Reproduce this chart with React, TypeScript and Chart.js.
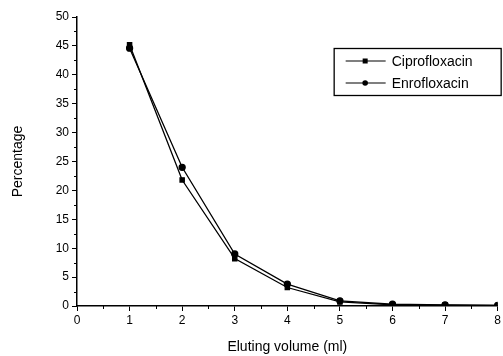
import React, { useEffect, useRef } from "react";
import { Chart, registerables } from "chart.js";

Chart.register(...registerables);

const volumes = [1, 2, 3, 4, 5, 6, 7, 8];
const ciprofloxacin = [45.2, 21.8, 8.2, 3.2, 0.7, 0.2, 0.15, 0.1];
const enrofloxacin = [44.6, 24.0, 9.0, 3.8, 0.9, 0.3, 0.2, 0.1];
const xTicks = [0, 1, 2, 3, 4, 5, 6, 7, 8];
const yTicks = [0, 5, 10, 15, 20, 25, 30, 35, 40, 45, 50];
const seriesNames = ["Ciprofloxacin", "Enrofloxacin"];

const FONT = "Arial, 'Liberation Sans', sans-serif";

const minorTicks = {
  id: "minorTicks",
  afterDraw(chart: any) {
    const ctx = chart.ctx;
    const xs = chart.scales.x;
    const ys = chart.scales.y;
    ctx.save();
    ctx.strokeStyle = "#000";
    ctx.lineWidth = 1;
    ctx.beginPath();
    for (let i = 0; i < xTicks.length - 1; i++) {
      const px = Math.round(xs.getPixelForValue(xTicks[i] + 0.5)) + 0.5;
      ctx.moveTo(px, ys.bottom);
      ctx.lineTo(px, ys.bottom + 3);
    }
    for (let i = 0; i < yTicks.length - 1; i++) {
      const py = Math.round(ys.getPixelForValue(yTicks[i] + 2.5)) + 0.5;
      ctx.moveTo(xs.left, py);
      ctx.lineTo(xs.left - 3, py);
    }
    ctx.stroke();
    ctx.restore();
  },
};

const legendBox = {
  id: "legendBox",
  afterDraw(chart: any) {
    const ctx = chart.ctx;
    const area = chart.chartArea;
    const w = 168;
    const h = 48;
    const x0 = area.right - w + 4;
    const y0 = area.top + 31;
    ctx.save();
    ctx.fillStyle = "#fff";
    ctx.fillRect(x0, y0, w, h);
    ctx.strokeStyle = "#000";
    ctx.lineWidth = 1.3;
    ctx.strokeRect(x0 + 0.5, y0 + 0.5, w - 1, h - 1);
    ctx.font = `14px ${FONT}`;
    ctx.textBaseline = "middle";
    ctx.fillStyle = "#000";
    seriesNames.forEach((name, i) => {
      const cy = y0 + 13 + i * 22;
      ctx.lineWidth = 1.2;
      ctx.beginPath();
      ctx.moveTo(x0 + 12, cy);
      ctx.lineTo(x0 + 52, cy);
      ctx.stroke();
      if (i === 0) {
        ctx.fillRect(x0 + 29, cy - 2.5, 5, 5);
      } else {
        ctx.beginPath();
        ctx.arc(x0 + 31.5, cy, 2.8, 0, Math.PI * 2);
        ctx.fill();
      }
      ctx.fillText(name, x0 + 58, cy + 1);
    });
    ctx.restore();
  },
};

export default function App() {
  const ref = useRef<HTMLCanvasElement | null>(null);
  useEffect(() => {
    document.body.style.margin = "0";
    const canvas = ref.current!;
    const chart = new Chart(canvas, {
      type: "line",
      data: {
        datasets: [
          {
            label: seriesNames[0],
            data: volumes.map((v, i) => ({ x: v, y: ciprofloxacin[i] })),
            borderColor: "#000",
            backgroundColor: "#000",
            borderWidth: 1.3,
            pointStyle: "rect",
            pointRadius: 3,
            tension: 0,
          },
          {
            label: seriesNames[1],
            data: volumes.map((v, i) => ({ x: v, y: enrofloxacin[i] })),
            borderColor: "#000",
            backgroundColor: "#000",
            borderWidth: 1.3,
            pointStyle: "circle",
            pointRadius: 3,
            tension: 0,
          },
        ],
      },
      options: {
        responsive: false,
        animation: false,
        devicePixelRatio: 1,
        layout: { padding: { top: 17, right: 5, left: 10, bottom: 0 } },
        plugins: { legend: { display: false }, tooltip: { enabled: false } },
        scales: {
          x: {
            type: "linear",
            min: 0,
            max: 8,
            afterFit: (s: any) => {
              s.height = 50;
            },
            afterBuildTicks: (s: any) => {
              s.ticks = xTicks.map((v) => ({ value: v }));
            },
            ticks: { color: "#000", font: { family: FONT, size: 12 }, padding: 2, maxRotation: 0 },
            grid: { drawOnChartArea: false, tickLength: 5, color: "#000", lineWidth: 1 },
            border: { color: "#000", width: 1.5 },
            title: {
              display: true,
              text: "Eluting volume (ml)",
              color: "#000",
              font: { family: FONT, size: 14 },
              padding: { top: 8, bottom: 0 },
            },
          },
          y: {
            type: "linear",
            min: 0,
            max: 50,
            afterFit: (s: any) => {
              s.width = 67;
            },
            afterBuildTicks: (s: any) => {
              s.ticks = yTicks.map((v) => ({ value: v }));
            },
            ticks: { color: "#000", font: { family: FONT, size: 12 }, padding: 3 },
            grid: { drawOnChartArea: false, tickLength: 5, color: "#000", lineWidth: 1 },
            border: { color: "#000", width: 1.5 },
            title: {
              display: true,
              text: "Percentage",
              color: "#000",
              font: { family: FONT, size: 14 },
              padding: { top: 0, bottom: 10 },
            },
          },
        },
      },
      plugins: [minorTicks, legendBox],
    });
    return () => chart.destroy();
  }, []);
  return (
    <div style={{ width: 503, height: 356, background: "#fff" }}>
      <canvas ref={ref} width={503} height={356} style={{ display: "block" }} />
    </div>
  );
}
